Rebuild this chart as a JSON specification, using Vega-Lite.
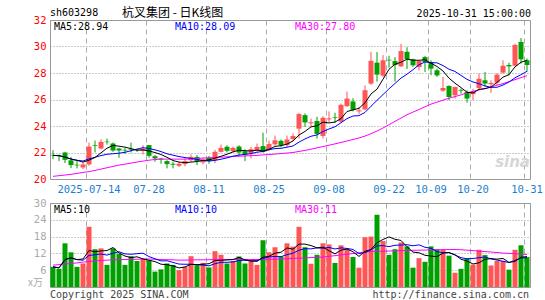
{
"$schema": "https://vega.github.io/schema/vega-lite/v6.json",
"background": "white",
"padding": {"left": 27, "top": 6, "right": 2, "bottom": 2},
"spacing": 24,
"bounds": "flush",
"config": {"view": {"stroke": "#999999", "strokeWidth": 1}, "axis": {"labelFont": "DejaVu Sans Mono", "labelFontSize": 10, "ticks": false, "domain": false, "labelOverlap": false, "labelBound": false}},
"data": {"values": [
{"d":"2025-07-04","o":21.82,"h":22.18,"l":21.5,"c":21.78,"v":7.2,"m30":20.2,"vm30":7.8},
{"d":"2025-07-07","o":21.77,"h":21.85,"l":21.35,"c":21.74,"v":6.5,"m30":20.25,"vm30":8.0},
{"d":"2025-07-08","o":22.0,"h":22.05,"l":21.2,"c":21.45,"v":15.6,"m30":20.3,"vm30":8.2},
{"d":"2025-07-09","o":21.41,"h":21.66,"l":20.83,"c":21.05,"v":12.4,"m30":20.35,"vm30":8.4},
{"d":"2025-07-10","o":21.08,"h":21.4,"l":20.8,"c":21.03,"v":7.2,"m30":20.42,"vm30":8.6},
{"d":"2025-07-11","o":20.87,"h":21.25,"l":20.75,"c":21.1,"v":8.4,"m30":20.5,"vm30":8.9},
{"d":"2025-07-14","o":21.1,"h":22.75,"l":21.0,"c":22.45,"v":21.5,"m30":20.55,"vm30":9.1},
{"d":"2025-07-15","o":22.55,"h":22.9,"l":22.0,"c":22.5,"v":13.5,"m30":20.65,"vm30":9.3},
{"d":"2025-07-16","o":22.3,"h":23.0,"l":22.25,"c":22.8,"v":13.8,"m30":20.75,"vm30":9.45},
{"d":"2025-07-17","o":22.82,"h":23.05,"l":22.6,"c":22.78,"v":7.9,"m30":20.85,"vm30":9.6},
{"d":"2025-07-18","o":22.68,"h":22.75,"l":22.05,"c":22.15,"v":13.8,"m30":20.95,"vm30":9.7},
{"d":"2025-07-21","o":22.3,"h":22.35,"l":21.6,"c":22.15,"v":11.9,"m30":21.05,"vm30":9.75},
{"d":"2025-07-22","o":22.2,"h":22.35,"l":21.9,"c":22.15,"v":7.9,"m30":21.12,"vm30":9.8},
{"d":"2025-07-23","o":22.28,"h":22.75,"l":22.0,"c":22.22,"v":11.0,"m30":21.2,"vm30":9.85},
{"d":"2025-07-24","o":22.22,"h":22.3,"l":22.05,"c":22.18,"v":9.3,"m30":21.28,"vm30":9.9},
{"d":"2025-07-25","o":22.12,"h":22.55,"l":21.85,"c":22.28,"v":10.1,"m30":21.35,"vm30":9.95},
{"d":"2025-07-28","o":22.56,"h":22.58,"l":21.6,"c":21.75,"v":9.5,"m30":21.42,"vm30":10.0},
{"d":"2025-07-29","o":21.72,"h":21.8,"l":21.3,"c":21.55,"v":5.5,"m30":21.47,"vm30":9.9},
{"d":"2025-07-30","o":21.55,"h":21.6,"l":21.15,"c":21.48,"v":6.3,"m30":21.5,"vm30":9.8},
{"d":"2025-07-31","o":21.35,"h":21.42,"l":20.8,"c":21.12,"v":8.4,"m30":21.5,"vm30":9.75},
{"d":"2025-08-01","o":21.15,"h":21.3,"l":20.8,"c":21.08,"v":7.9,"m30":21.5,"vm30":9.7},
{"d":"2025-08-04","o":21.0,"h":21.3,"l":20.9,"c":21.15,"v":6.0,"m30":21.5,"vm30":9.6},
{"d":"2025-08-05","o":21.12,"h":21.55,"l":20.95,"c":21.35,"v":7.2,"m30":21.5,"vm30":9.6},
{"d":"2025-08-06","o":21.42,"h":21.85,"l":21.3,"c":21.67,"v":11.0,"m30":21.52,"vm30":9.65},
{"d":"2025-08-07","o":21.67,"h":21.8,"l":21.05,"c":21.35,"v":7.8,"m30":21.55,"vm30":9.7},
{"d":"2025-08-08","o":21.25,"h":21.6,"l":21.1,"c":21.47,"v":8.6,"m30":21.58,"vm30":9.7},
{"d":"2025-08-11","o":21.6,"h":21.75,"l":21.15,"c":21.35,"v":7.0,"m30":21.6,"vm30":9.75},
{"d":"2025-08-12","o":21.42,"h":22.2,"l":21.2,"c":22.05,"v":12.8,"m30":21.62,"vm30":9.8},
{"d":"2025-08-13","o":22.05,"h":22.6,"l":22.0,"c":22.35,"v":11.5,"m30":21.65,"vm30":9.8},
{"d":"2025-08-14","o":22.43,"h":22.55,"l":22.0,"c":22.13,"v":8.4,"m30":21.67,"vm30":9.8},
{"d":"2025-08-15","o":22.1,"h":22.45,"l":22.0,"c":22.35,"v":9.3,"m30":21.7,"vm30":9.8},
{"d":"2025-08-18","o":22.45,"h":22.55,"l":21.75,"c":22.0,"v":10.9,"m30":21.72,"vm30":9.8},
{"d":"2025-08-19","o":22.1,"h":22.25,"l":21.35,"c":21.85,"v":8.4,"m30":21.74,"vm30":9.8},
{"d":"2025-08-20","o":21.92,"h":22.43,"l":21.55,"c":22.25,"v":9.3,"m30":21.76,"vm30":9.8},
{"d":"2025-08-21","o":22.18,"h":22.68,"l":22.07,"c":22.42,"v":7.9,"m30":21.78,"vm30":9.85},
{"d":"2025-08-22","o":22.48,"h":23.5,"l":21.98,"c":22.05,"v":16.7,"m30":21.82,"vm30":9.9},
{"d":"2025-08-25","o":22.2,"h":22.9,"l":22.1,"c":22.65,"v":12.4,"m30":21.85,"vm30":9.9},
{"d":"2025-08-26","o":22.62,"h":23.28,"l":22.5,"c":22.92,"v":14.2,"m30":21.88,"vm30":9.95},
{"d":"2025-08-27","o":22.88,"h":22.98,"l":22.4,"c":22.55,"v":10.9,"m30":21.92,"vm30":10.0},
{"d":"2025-08-28","o":22.55,"h":23.28,"l":22.42,"c":22.98,"v":15.6,"m30":21.96,"vm30":10.1},
{"d":"2025-08-29","o":23.02,"h":23.45,"l":22.85,"c":23.25,"v":14.4,"m30":22.0,"vm30":10.2},
{"d":"2025-09-01","o":23.8,"h":25.0,"l":23.05,"c":24.9,"v":21.5,"m30":22.08,"vm30":10.3},
{"d":"2025-09-02","o":24.82,"h":24.95,"l":23.93,"c":24.27,"v":14.2,"m30":22.16,"vm30":10.4},
{"d":"2025-09-03","o":24.2,"h":24.56,"l":23.93,"c":24.28,"v":8.3,"m30":22.25,"vm30":10.5},
{"d":"2025-09-04","o":24.38,"h":24.7,"l":23.05,"c":23.4,"v":11.5,"m30":22.35,"vm30":10.6},
{"d":"2025-09-05","o":23.25,"h":24.74,"l":23.05,"c":24.62,"v":15.6,"m30":22.45,"vm30":10.7},
{"d":"2025-09-08","o":24.5,"h":25.1,"l":24.3,"c":24.58,"v":15.2,"m30":22.55,"vm30":10.95},
{"d":"2025-09-09","o":24.65,"h":25.0,"l":24.25,"c":24.6,"v":8.6,"m30":22.65,"vm30":11.2},
{"d":"2025-09-10","o":24.33,"h":25.7,"l":24.24,"c":25.6,"v":14.9,"m30":22.76,"vm30":11.45},
{"d":"2025-09-11","o":25.5,"h":26.6,"l":25.42,"c":26.07,"v":13.5,"m30":22.87,"vm30":11.7},
{"d":"2025-09-12","o":25.85,"h":26.1,"l":25.1,"c":25.22,"v":10.7,"m30":22.98,"vm30":11.95},
{"d":"2025-09-15","o":25.1,"h":25.45,"l":24.9,"c":25.18,"v":6.9,"m30":23.1,"vm30":12.2},
{"d":"2025-09-16","o":25.25,"h":27.07,"l":25.18,"c":26.7,"v":17.8,"m30":23.24,"vm30":12.45},
{"d":"2025-09-17","o":27.2,"h":29.6,"l":27.1,"c":28.92,"v":18.0,"m30":23.42,"vm30":12.7},
{"d":"2025-09-18","o":28.78,"h":29.58,"l":27.35,"c":27.88,"v":25.8,"m30":23.62,"vm30":12.75},
{"d":"2025-09-19","o":27.8,"h":29.35,"l":27.7,"c":28.96,"v":16.4,"m30":23.85,"vm30":12.8},
{"d":"2025-09-22","o":29.0,"h":29.3,"l":28.4,"c":28.95,"v":11.5,"m30":24.1,"vm30":12.85},
{"d":"2025-09-23","o":28.9,"h":29.2,"l":27.35,"c":28.6,"v":13.5,"m30":24.35,"vm30":12.9},
{"d":"2025-09-24","o":28.5,"h":30.2,"l":28.45,"c":29.66,"v":15.9,"m30":24.6,"vm30":13.0},
{"d":"2025-09-25","o":29.6,"h":29.95,"l":28.3,"c":29.05,"v":14.5,"m30":24.85,"vm30":13.05},
{"d":"2025-09-26","o":29.03,"h":29.08,"l":28.45,"c":28.58,"v":6.9,"m30":25.05,"vm30":13.1},
{"d":"2025-09-29","o":28.45,"h":28.95,"l":28.2,"c":28.9,"v":10.3,"m30":25.25,"vm30":13.15},
{"d":"2025-09-30","o":29.2,"h":29.28,"l":28.07,"c":28.83,"v":9.0,"m30":25.45,"vm30":13.2},
{"d":"2025-10-09","o":28.83,"h":28.96,"l":27.83,"c":28.33,"v":14.5,"m30":25.65,"vm30":13.25},
{"d":"2025-10-10","o":28.2,"h":28.33,"l":27.7,"c":27.82,"v":13.5,"m30":25.8,"vm30":13.3},
{"d":"2025-10-13","o":26.67,"h":27.7,"l":26.57,"c":26.87,"v":13.3,"m30":25.95,"vm30":13.35},
{"d":"2025-10-14","o":27.02,"h":27.07,"l":25.94,"c":26.19,"v":11.2,"m30":26.1,"vm30":13.38},
{"d":"2025-10-15","o":26.32,"h":26.96,"l":26.07,"c":26.94,"v":5.1,"m30":26.22,"vm30":13.4},
{"d":"2025-10-16","o":26.72,"h":26.82,"l":26.45,"c":26.67,"v":6.5,"m30":26.35,"vm30":13.3},
{"d":"2025-10-17","o":26.57,"h":26.7,"l":25.76,"c":26.07,"v":10.3,"m30":26.5,"vm30":13.15},
{"d":"2025-10-20","o":26.4,"h":26.8,"l":25.94,"c":26.6,"v":8.0,"m30":26.62,"vm30":13.0},
{"d":"2025-10-21","o":26.87,"h":27.95,"l":26.75,"c":27.57,"v":13.3,"m30":26.72,"vm30":12.8},
{"d":"2025-10-22","o":27.45,"h":28.07,"l":26.95,"c":27.2,"v":11.4,"m30":26.82,"vm30":12.65},
{"d":"2025-10-23","o":27.15,"h":27.45,"l":26.5,"c":27.25,"v":7.7,"m30":26.95,"vm30":12.5},
{"d":"2025-10-24","o":27.27,"h":28.0,"l":27.07,"c":27.87,"v":9.3,"m30":27.08,"vm30":12.3},
{"d":"2025-10-27","o":28.03,"h":28.96,"l":27.95,"c":28.55,"v":9.3,"m30":27.2,"vm30":12.1},
{"d":"2025-10-28","o":28.6,"h":28.78,"l":27.82,"c":28.5,"v":6.2,"m30":27.35,"vm30":12.0},
{"d":"2025-10-29","o":28.55,"h":30.2,"l":28.5,"c":30.12,"v":13.3,"m30":27.5,"vm30":11.9},
{"d":"2025-10-30","o":30.34,"h":30.64,"l":28.7,"c":29.03,"v":14.9,"m30":27.65,"vm30":11.75},
{"d":"2025-10-31","o":28.96,"h":29.1,"l":28.1,"c":28.6,"v":10.7,"m30":27.8,"vm30":11.6}
]},
"transform": [
{"window": [{"op": "mean", "field": "c", "as": "ma5"}, {"op": "mean", "field": "v", "as": "vma5"}], "frame": [-4, 0], "sort": [{"field": "d"}]},
{"window": [{"op": "mean", "field": "c", "as": "ma10"}, {"op": "mean", "field": "v", "as": "vma10"}], "frame": [-9, 0], "sort": [{"field": "d"}]}
],
"vconcat": [
{
"width": 480, "height": 159,
"encoding": {
"x": {"field": "d", "type": "ordinal", "title": null, "scale": {"paddingInner": 0, "paddingOuter": 0},
"axis": {"values": ["2025-07-14","2025-07-28","2025-08-11","2025-08-25","2025-09-08","2025-09-22","2025-10-09","2025-10-20","2025-10-31"], "bandPosition": 0, "labelAngle": 0, "labelColor": "#1a7fd2", "labelPadding": 5, "labelOverlap": false, "labelExpr": "datum.value == '2025-07-14' ? datum.value : slice(datum.value, 5)", "grid": true, "gridColor": "#aaaaaa", "gridDash": [5, 4], "labelFontSize": 10.5}}
},
"layer": [
{"mark": {"type": "rule", "strokeWidth": 1},
"encoding": {"y": {"field": "l", "type": "quantitative", "title": null, "scale": {"domain": [20, 32], "nice": false, "zero": false},
"axis": {"values": [20,22,24,26,28,30,32], "format": "d", "tickCount": 20, "labelOverlap": false, "labelColor": "#ff0000", "labelPadding": 4, "grid": true, "gridColor": "#999999", "gridDash": [1, 2], "labelFontSize": 10.5}},
"y2": {"field": "h"},
"color": {"condition": {"test": "datum.c >= datum.o", "value": "#ff5555"}, "value": "#00a000"}}},
{"mark": {"type": "bar", "width": 5},
"encoding": {"y": {"field": "o", "type": "quantitative", "title": null}, "y2": {"field": "c"},
"color": {"condition": {"test": "datum.c >= datum.o", "value": "#ff5555"}, "value": "#00a000"}}},
{"mark": {"type": "line", "color": "#ff00ff", "strokeWidth": 1}, "encoding": {"y": {"field": "m30", "type": "quantitative", "title": null}}},
{"mark": {"type": "line", "color": "#0000ff", "strokeWidth": 1}, "encoding": {"y": {"field": "ma10", "type": "quantitative", "title": null}}},
{"mark": {"type": "line", "color": "#000000", "strokeWidth": 1}, "encoding": {"y": {"field": "ma5", "type": "quantitative", "title": null}}},
{"data": {"values": [{}]}, "mark": {"type": "text", "text": "sh603298", "align": "left", "baseline": "middle", "dx": -3, "dy": -7, "font": "DejaVu Sans Mono", "fontSize": 10, "color": "#000000"},
"encoding": {"x": {"datum": "2025-07-04"}, "y": {"datum": 32}}},
{"data": {"values": [{}]}, "mark": {"type": "text", "text": "杭叉集团 - 日K线图", "align": "left", "baseline": "middle", "dx": 3, "dy": -7, "font": "Noto Sans CJK SC", "fontSize": 12, "color": "#000000"},
"encoding": {"x": {"datum": "2025-07-21"}, "y": {"datum": 32}}},
{"data": {"values": [{}]}, "mark": {"type": "text", "text": "2025-10-31 15:00:00", "align": "right", "baseline": "middle", "dx": 4, "dy": -6, "font": "DejaVu Sans Mono", "fontSize": 10, "color": "#000000"},
"encoding": {"x": {"datum": "2025-10-31"}, "y": {"datum": 32}}},
{"data": {"values": [{}]}, "mark": {"type": "text", "text": "MA5:28.94", "align": "left", "baseline": "middle", "dx": 1, "dy": 6.5, "font": "DejaVu Sans Mono", "fontSize": 10, "color": "#000000"},
"encoding": {"x": {"datum": "2025-07-04"}, "y": {"datum": 32}}},
{"data": {"values": [{}]}, "mark": {"type": "text", "text": "MA10:28.09", "align": "left", "baseline": "middle", "dx": 2, "dy": 6.5, "font": "DejaVu Sans Mono", "fontSize": 10, "color": "#0000ff"},
"encoding": {"x": {"datum": "2025-08-01"}, "y": {"datum": 32}}},
{"data": {"values": [{}]}, "mark": {"type": "text", "text": "MA30:27.80", "align": "left", "baseline": "middle", "dx": 2, "dy": 6.5, "font": "DejaVu Sans Mono", "fontSize": 10, "color": "#ff00ff"},
"encoding": {"x": {"datum": "2025-08-29"}, "y": {"datum": 32}}},
{"data": {"values": [{}]}, "mark": {"type": "text", "text": "sina", "align": "right", "baseline": "middle", "dx": 3, "font": "DejaVu Sans", "fontSize": 15, "fontWeight": "bold", "fontStyle": "italic", "color": "#d6d6d6"},
"encoding": {"x": {"datum": "2025-10-31"}, "y": {"datum": 21.3}}}
]
},
{
"width": 480, "height": 84,
"encoding": {
"x": {"field": "d", "type": "ordinal", "title": null, "scale": {"paddingInner": 0, "paddingOuter": 0},
"axis": {"values": ["2025-07-14","2025-07-28","2025-08-11","2025-08-25","2025-09-08","2025-09-22","2025-10-09","2025-10-20","2025-10-31"], "bandPosition": 0, "labels": false, "grid": true, "gridColor": "#aaaaaa", "gridDash": [5, 4]}}
},
"layer": [
{"mark": {"type": "bar", "width": 5},
"encoding": {"y": {"field": "v", "type": "quantitative", "title": null, "scale": {"domain": [0, 30], "nice": false},
"axis": {"values": [6,12,18,24,30], "format": "d", "tickCount": 20, "labelOverlap": false, "labelColor": "#aaaaaa", "labelPadding": 4, "grid": true, "gridColor": "#999999", "gridDash": [1, 2], "labelFontSize": 10.5}},
"color": {"condition": {"test": "datum.c >= datum.o", "value": "#ff5555"}, "value": "#00a000"}}},
{"mark": {"type": "line", "color": "#ff00ff", "strokeWidth": 1}, "encoding": {"y": {"field": "vm30", "type": "quantitative", "title": null}}},
{"mark": {"type": "line", "color": "#0000ff", "strokeWidth": 1}, "encoding": {"y": {"field": "vma10", "type": "quantitative", "title": null}}},
{"mark": {"type": "line", "color": "#000000", "strokeWidth": 1}, "encoding": {"y": {"field": "vma5", "type": "quantitative", "title": null}}},
{"data": {"values": [{}]}, "mark": {"type": "text", "text": "MA5:10", "align": "left", "baseline": "middle", "dx": 1, "dy": 6.5, "font": "DejaVu Sans Mono", "fontSize": 10, "color": "#000000"},
"encoding": {"x": {"datum": "2025-07-04"}, "y": {"datum": 30}}},
{"data": {"values": [{}]}, "mark": {"type": "text", "text": "MA10:10", "align": "left", "baseline": "middle", "dx": 2, "dy": 6.5, "font": "DejaVu Sans Mono", "fontSize": 10, "color": "#0000ff"},
"encoding": {"x": {"datum": "2025-08-01"}, "y": {"datum": 30}}},
{"data": {"values": [{}]}, "mark": {"type": "text", "text": "MA30:11", "align": "left", "baseline": "middle", "dx": 2, "dy": 6.5, "font": "DejaVu Sans Mono", "fontSize": 10, "color": "#ff00ff"},
"encoding": {"x": {"datum": "2025-08-29"}, "y": {"datum": 30}}},
{"data": {"values": [{}]}, "mark": {"type": "text", "text": "x万", "align": "right", "baseline": "middle", "dx": -10, "dy": -4, "font": "Noto Sans CJK SC", "fontSize": 10, "color": "#aaaaaa"},
"encoding": {"x": {"datum": "2025-07-04"}, "y": {"datum": 0}}},
{"data": {"values": [{}]}, "mark": {"type": "text", "text": "Copyright 2025 SINA.COM", "align": "left", "baseline": "middle", "dx": -3, "dy": 8, "font": "DejaVu Sans Mono", "fontSize": 10, "color": "#444444"},
"encoding": {"x": {"datum": "2025-07-04"}, "y": {"datum": 0}}},
{"data": {"values": [{}]}, "mark": {"type": "text", "text": "http://finance.sina.com.cn", "align": "right", "baseline": "middle", "dx": 2, "dy": 8, "font": "DejaVu Sans Mono", "fontSize": 10, "color": "#444444"},
"encoding": {"x": {"datum": "2025-10-31"}, "y": {"datum": 0}}}
]
}
]
}
